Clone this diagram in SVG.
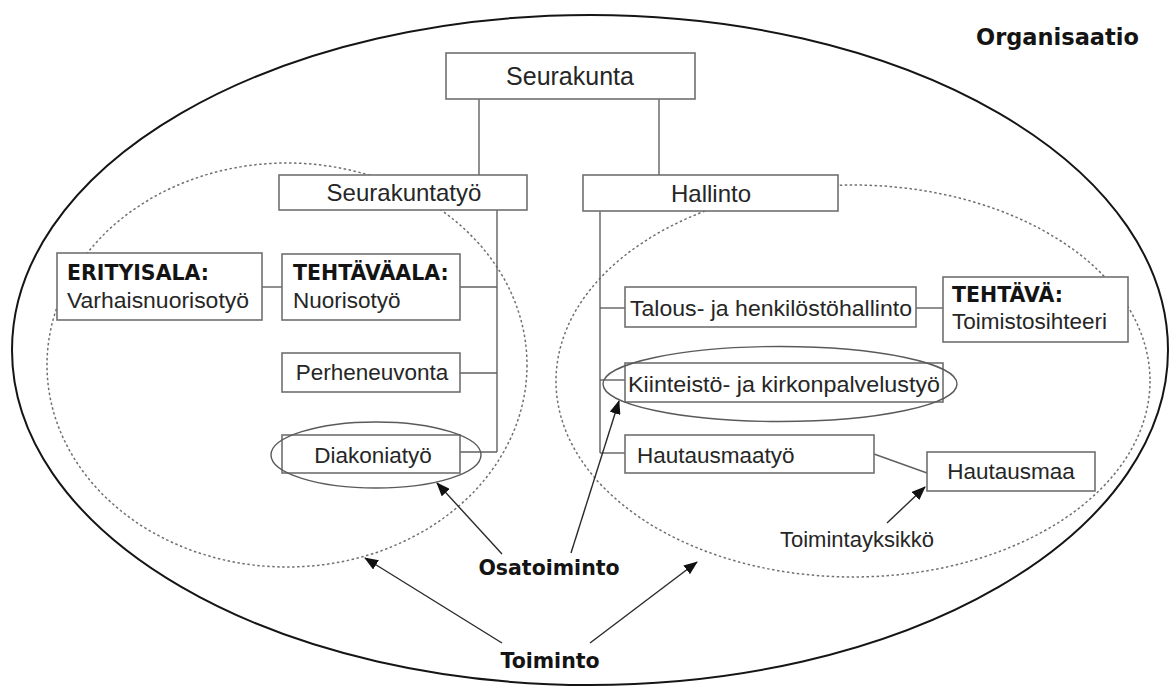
<svg xmlns="http://www.w3.org/2000/svg" width="1169" height="686" viewBox="0 0 1169 686">
<defs>
<style>
.bg{fill:#ffffff}
.outer{fill:none;stroke:#151515;stroke-width:2}
.dot{fill:none;stroke:#707070;stroke-width:1.5;stroke-dasharray:2.5 2.5}
.box{fill:#ffffff;stroke:#707070;stroke-width:1.6}
.oval{fill:none;stroke:#5a5a5a;stroke-width:1.4}
.con{fill:none;stroke:#606060;stroke-width:1.4}
.arr{fill:none;stroke:#2a2a2a;stroke-width:1.4}
.t{font-family:"Liberation Sans",Arial,sans-serif;font-size:22.5px;fill:#262626}
.tc{text-anchor:middle}
.b{font-family:"DejaVu Sans",Verdana,sans-serif;font-weight:bold;font-size:20.5px;fill:#141414}
</style>
<marker id="ah" markerUnits="userSpaceOnUse" markerWidth="14" markerHeight="11" refX="13" refY="5.5" orient="auto">
<path d="M0,0 L14,5.5 L0,11 Z" fill="#111"/>
</marker>
</defs>
<rect class="bg" x="0" y="0" width="1169" height="686"/>

<g id="organisaatio">
<ellipse class="outer" cx="590" cy="350" rx="578" ry="335"/>
<text class="b" x="976" y="45" style="font-size:22.5px">Organisaatio</text>
</g>

<g id="toiminto-areas">
<ellipse id="toiminto-left" class="dot" cx="287" cy="365" rx="240" ry="202"/>
<ellipse id="toiminto-right" class="dot" cx="853" cy="381" rx="297" ry="196"/>
</g>

<g id="connectors">
<line class="con" x1="479" y1="99" x2="479" y2="175"/>
<line class="con" x1="659" y1="99" x2="659" y2="175"/>
<line class="con" x1="497" y1="210" x2="497" y2="452"/>
<line class="con" x1="262" y1="287" x2="282" y2="287"/>
<line class="con" x1="460" y1="287" x2="497" y2="287"/>
<line class="con" x1="460" y1="373" x2="497" y2="373"/>
<line class="con" x1="460" y1="452" x2="497" y2="452"/>
<line class="con" x1="600" y1="211" x2="600" y2="453"/>
<line class="con" x1="600" y1="308" x2="625" y2="308"/>
<line class="con" x1="916" y1="308" x2="943" y2="308"/>
<line class="con" x1="600" y1="380" x2="625" y2="380"/>
<line class="con" x1="600" y1="453" x2="625" y2="453"/>
<line class="con" x1="874" y1="454" x2="927" y2="473"/>
<line class="arr" x1="502" y1="554" x2="437" y2="483" marker-end="url(#ah)"/>
<line class="arr" x1="571" y1="553" x2="619" y2="401" marker-end="url(#ah)"/>
<line class="arr" x1="502" y1="643" x2="365" y2="558" marker-end="url(#ah)"/>
<line class="arr" x1="590" y1="643" x2="697" y2="562" marker-end="url(#ah)"/>
<line class="arr" x1="887" y1="523" x2="925" y2="487" marker-end="url(#ah)"/>
</g>

<g id="seurakunta">
<rect class="box" x="446" y="53" width="249" height="46"/>
<text class="t tc" x="570" y="85" style="font-size:25px">Seurakunta</text>
</g>

<g id="seurakuntatyo">
<rect class="box" x="279" y="175" width="248" height="35"/>
<text class="t tc" x="404" y="201" style="font-size:24px">Seurakuntatyö</text>
</g>

<g id="hallinto">
<rect class="box" x="583" y="175" width="255" height="36"/>
<text class="t tc" x="711" y="202" style="font-size:24px">Hallinto</text>
</g>

<g id="erityisala">
<rect class="box" x="57" y="253" width="205" height="67"/>
<text class="b" x="67" y="280">ERITYISALA:</text>
<text class="t" x="67" y="308" textLength="182" lengthAdjust="spacingAndGlyphs">Varhaisnuorisotyö</text>
</g>

<g id="tehtavaala">
<rect class="box" x="282" y="254" width="178" height="66"/>
<text class="b" x="293" y="280">TEHTÄVÄALA:</text>
<text class="t" x="293" y="308">Nuorisotyö</text>
</g>

<g id="perheneuvonta">
<rect class="box" x="282" y="353" width="178" height="39"/>
<text class="t tc" x="372" y="380">Perheneuvonta</text>
</g>

<g id="diakoniatyo">
<rect class="box" x="282" y="435" width="178" height="38"/>
<text class="t tc" x="373" y="463">Diakoniatyö</text>
<ellipse class="oval" cx="376" cy="455" rx="105" ry="33"/>
</g>

<g id="talous">
<rect class="box" x="625" y="287" width="291" height="40"/>
<text class="t" x="630" y="316" textLength="282" lengthAdjust="spacingAndGlyphs">Talous- ja henkilöstöhallinto</text>
</g>

<g id="tehtava">
<rect class="box" x="943" y="277" width="185" height="65"/>
<text class="b" x="952" y="302">TEHTÄVÄ:</text>
<text class="t" x="952" y="329">Toimistosihteeri</text>
</g>

<g id="kiinteisto">
<rect class="box" x="625" y="363" width="318" height="39"/>
<text class="t" x="628" y="392" textLength="312" lengthAdjust="spacingAndGlyphs">Kiinteistö- ja kirkonpalvelustyö</text>
<ellipse class="oval" cx="780" cy="384" rx="177" ry="37.5"/>
</g>

<g id="hautausmaatyo">
<rect class="box" x="625" y="435" width="249" height="38"/>
<text class="t" x="637" y="463">Hautausmaatyö</text>
</g>

<g id="hautausmaa">
<rect class="box" x="927" y="452" width="168" height="39"/>
<text class="t tc" x="1011" y="479">Hautausmaa</text>
</g>

<g id="labels">
<text class="t tc" x="857" y="547" style="font-size:22px">Toimintayksikkö</text>
<text class="b tc" x="549" y="575">Osatoiminto</text>
<text class="b tc" x="550" y="668">Toiminto</text>
</g>
</svg>
